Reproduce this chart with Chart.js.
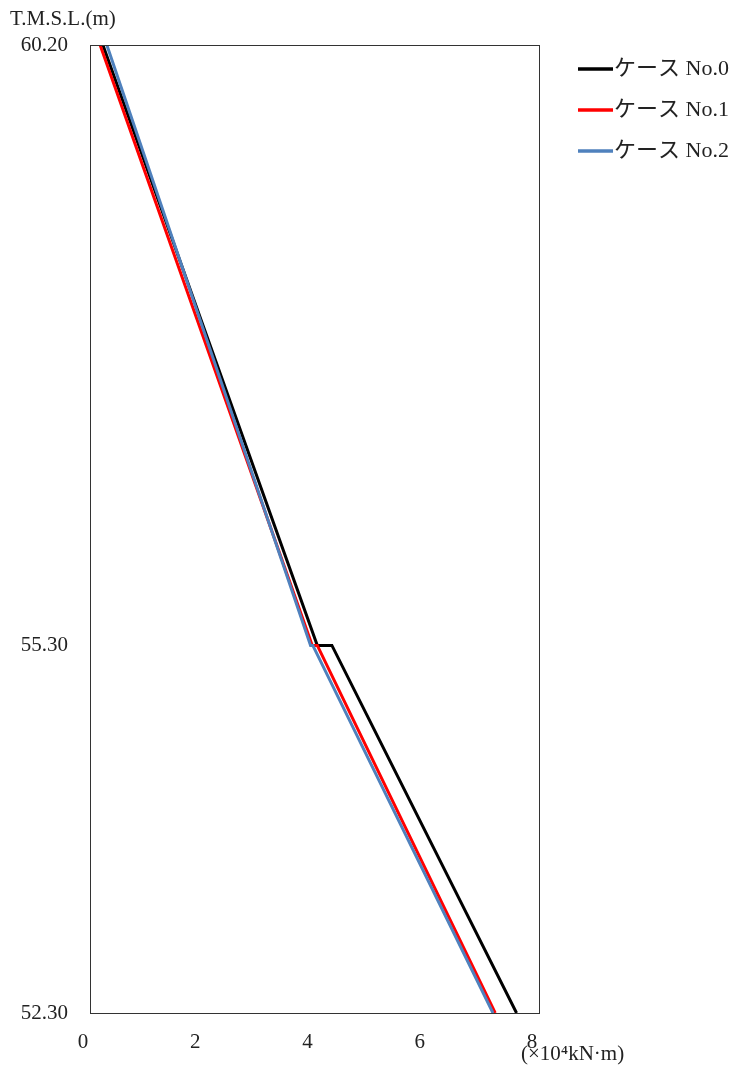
<!DOCTYPE html>
<html>
<head>
<meta charset="utf-8">
<script src="https://cdn.jsdelivr.net/npm/chart.js@4/dist/chart.umd.min.js"></script>
<style>
  html, body { margin: 0; padding: 0; background: #fff; }
  #wrap { width: 747px; height: 1068px; }
</style>
</head>
<body>
<div id="wrap"><canvas id="chart"></canvas></div>
<script>
// elevation (T.M.S.L. m) and moment (x10^4 kN·m) per case
const levels = [60.20, 55.30, 55.30, 52.30];
const case0 = [0.23, 4.05, 4.31, 7.60];
const case1 = [0.18, 3.96, 4.05, 7.22];
const case2 = [0.30, 3.93, 3.97, 7.18];
const caseNames = ['ケース No.0', 'ケース No.1', 'ケース No.2'];
const caseColors = ['#000000', '#ff0000', '#4f81bd'];
const xTicks = [0, 2, 4, 6, 8];
const yTicks = [52.30, 55.30, 60.20];

const FONT = '"Liberation Serif", "Noto Sans CJK JP", serif';

const toPoints = vals => vals.map((v, i) => ({ x: v, y: levels[i] }));

// frame, axis titles and legend
const decor = {
  id: 'decor',
  afterDraw(chart) {
    const { ctx, chartArea: a } = chart;
    ctx.save();
    ctx.strokeStyle = '#333';
    ctx.lineWidth = 1;
    ctx.strokeRect(a.left + 0.5, a.top + 0.5, a.right - a.left, a.bottom - a.top);

    ctx.fillStyle = '#222';
    ctx.textBaseline = 'middle';
    ctx.textAlign = 'left';
    ctx.font = '21px ' + FONT;
    ctx.fillText('T.M.S.L.(m)', 10, 19);
    ctx.fillText('(×10⁴kN·m)', 521, 1054);

    ctx.font = '22px ' + FONT;
    [case0, case1, case2].forEach((_, i) => {
      const y = 69 + i * 41;
      ctx.strokeStyle = caseColors[i];
      ctx.lineWidth = 3.5;
      ctx.beginPath();
      ctx.moveTo(578, y);
      ctx.lineTo(613, y);
      ctx.stroke();
      ctx.fillStyle = '#222';
      ctx.fillText(caseNames[i], 614, y);
    });
    ctx.restore();
  }
};

new Chart(document.getElementById('chart'), {
  type: 'scatter',
  data: {
    datasets: [
      { label: caseNames[0], data: toPoints(case0), borderColor: caseColors[0], order: 2 },
      { label: caseNames[1], data: toPoints(case1), borderColor: caseColors[1], order: 1 },
      { label: caseNames[2], data: toPoints(case2), borderColor: caseColors[2], order: 0 }
    ].map(d => Object.assign(d, { showLine: true, pointRadius: 0, borderWidth: 3, fill: false, tension: 0 }))
  },
  options: {
    responsive: true,
    maintainAspectRatio: false,
    animation: false,
    layout: { padding: { left: 0, top: 45, right: 208, bottom: 0 } },
    plugins: { legend: { display: false }, tooltip: { enabled: false } },
    scales: {
      x: {
        type: 'linear',
        min: 0,
        max: 8,
        afterBuildTicks: s => { s.ticks = xTicks.map(v => ({ value: v })); },
        afterFit: s => { s.height = 55; },
        grid: { display: false, drawTicks: false },
        border: { color: '#333' },
        ticks: { color: '#222', font: { family: FONT, size: 21 }, padding: 17, labelOffset: -7 }
      },
      y: {
        type: 'linear',
        min: 52.30,
        max: 60.20,
        afterBuildTicks: s => { s.ticks = yTicks.map(v => ({ value: v })); },
        afterFit: s => { s.width = 90; },
        grid: { display: false, drawTicks: false },
        border: { color: '#333' },
        ticks: {
          color: '#222',
          font: { family: FONT, size: 21 },
          padding: 22,
          callback: v => Number(v).toFixed(2)
        }
      }
    }
  },
  plugins: [decor]
});
</script>
</body>
</html>
